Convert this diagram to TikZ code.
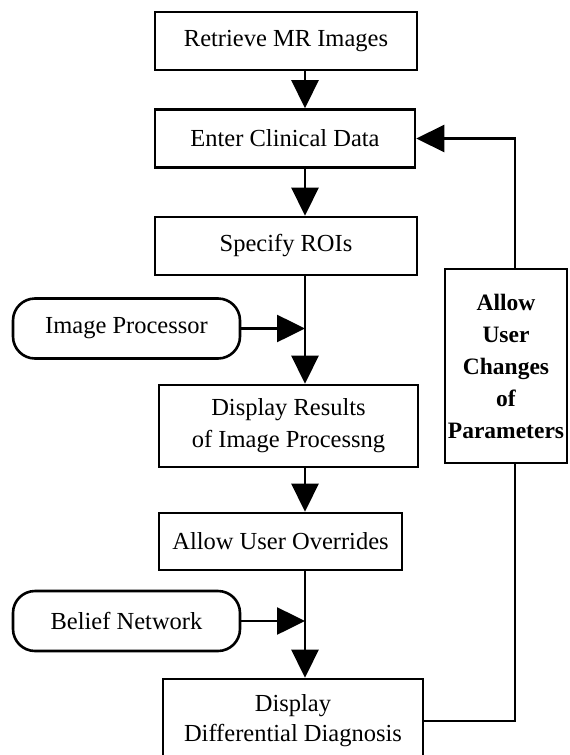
\documentclass[tikz,border=0pt]{standalone}
\usepackage{fontspec}
\setmainfont{Liberation Serif}
\usetikzlibrary{arrows.meta,positioning}

\begin{document}
\begin{tikzpicture}[
  x=1pt, y=-1pt,
  >={Triangle[length=28pt,width=27pt]},
  line width=2.6pt,
  every node/.style={
    font=\fontsize{24.5}{32}\selectfont,
    align=center, inner sep=0pt},
  stepbox/.style={draw, rectangle, minimum height=58pt},
  source/.style={draw, rounded corners=22pt,
    minimum width=227pt, minimum height=60pt},
  sidebox/.style={draw, minimum width=122pt, minimum height=194pt,
    font=\fontsize{23.5}{32}\selectfont\bfseries}]

  \useasboundingbox (0,0) rectangle (570,755);
  \coordinate (spine) at (305,0);
  \coordinate (loop) at (515,0);

  % main column
  \node[stepbox, minimum width=262pt] (retrieve) at (286,41) {Retrieve MR Images};
  \node[stepbox, minimum width=260pt] (enter) at (285,138.5) {Enter Clinical Data};
  \node[stepbox, minimum width=262pt] (roi) at (286,246) {Specify ROIs};
  \node[stepbox, minimum width=259pt, minimum height=82pt] (results) at (288.5,426)
    {Display Results\\of Image Processng};
  \node[stepbox, minimum width=243pt, minimum height=57pt] (override) at (280.5,541.5)
    {Allow User Overrides};
  % bottom edge runs off the page, as in the scan
  \node[stepbox, minimum width=260pt, minimum height=84pt,
    font=\fontsize{24.5}{30}\selectfont] (diag) at (293,721)
    {Display\\Differential Diagnosis};

  % inputs
  \node[source] (improc) at (126.5,328.5) {Image Processor};
  \node[source] (belief) at (126.5,621) {Belief Network};

  % feedback
  \node[sidebox] (allow) at (506,366) {Allow\\User\\Changes\\of\\Parameters};

  \draw[->] (retrieve.south -| spine) -- (enter.north -| spine);
  \draw[->] (enter.south -| spine) -- (roi.north -| spine);
  \draw[->] (roi.south -| spine) -- (results.north -| spine);
  \draw[->] (results.south -| spine) -- (override.north -| spine);
  \draw[->] (override.south -| spine) -- (diag.north -| spine);
  \draw[->] (improc.east) -- (improc.east -| spine);
  \draw[->] (belief.east) -- (belief.east -| spine);

  \draw (diag.east) -| (allow.south -| loop);
  \draw[->] (allow.north -| loop) |- (enter.east);
\end{tikzpicture}
\end{document}
